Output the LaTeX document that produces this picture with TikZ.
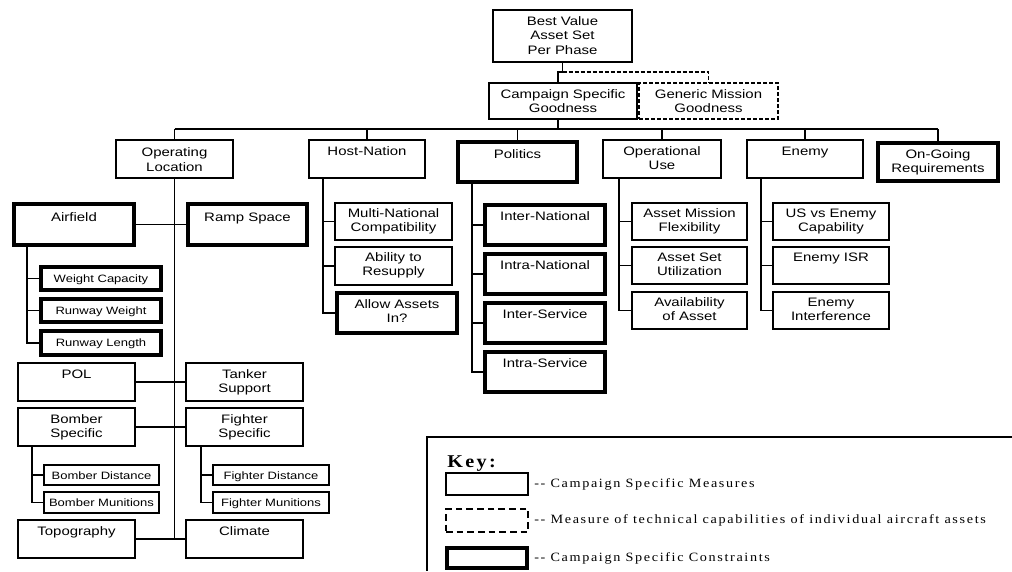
\documentclass[tikz,border=0pt]{standalone}
\usepackage{fontspec}
\newfontfamily\af[FakeStretch=1.22]{Liberation Sans}
\newfontfamily\kf[FakeStretch=1.12,LetterSpace=13]{Liberation Serif}
\newfontfamily\ttlf{Liberation Serif}
\newcommand\bxfont{\af\fontsize{9.2}{10.9}\selectfont}
\newcommand\smfont{\af\fontsize{8}{9.5}\selectfont}
\newcommand\keyfont{\kf\fontsize{9.5}{11}\selectfont}
\newcommand\keybfont{\kf\bfseries\fontsize{13.5}{15}\selectfont}
% name, x1, y1, x2, y2 (px), style, first-baseline offset, text
\newcommand\Bx[8]{%
  \node[#6, anchor=north west, inner sep=0pt, outer sep=0pt] (#1) at (#2,#3)
  {\parbox[c][\dimexpr 3pt*(#5-#3)/4\relax][t]{\dimexpr 3pt*(#4-#2)/4\relax}{\centering\rule{0pt}{#7}#8\par}};}
\tikzset{
  nb/.style={draw, line width=1.1pt, font=\bxfont},
  nbs/.style={draw, line width=1.1pt, font=\smfont},
  db/.style={draw, line width=1.1pt, dash pattern=on 3pt off 1.5pt, font=\bxfont},
  kdb/.style={draw, line width=1.1pt, dash pattern=on 5pt off 3pt},
  cb/.style={draw=gray!60, line width=0.5pt, double=black, double distance=2.3pt, font=\bxfont},
  cbs/.style={cb, font=\smfont},
  conn/.style={line width=1pt},
}
\begin{document}
\begin{tikzpicture}[x=0.75pt,y=-0.75pt]
\useasboundingbox (0,0) rectangle (1012,571);
% cut-off title
\begin{scope}
\clip (0,0) rectangle (1012,571);
\node[anchor=base west, inner sep=0pt, font=\ttlf\bfseries\fontsize{48}{50}\selectfont] (title) at (271,-15) {Campaign};
\end{scope}
% top
\Bx{bv}{493}{10}{632}{62}{nb}{11.25pt}{Best Value\\Asset Set\\Per Phase}
\Bx{csg}{489}{83}{637}{119}{nb}{11.25pt}{Campaign Specific\\Goodness}
\Bx{gmg}{639}{83}{778}{119}{db}{11.25pt}{Generic Mission\\Goodness}
% level 1
\Bx{ol}{116}{140}{233}{178}{nb}{12.4pt}{Operating\\Location}
\Bx{hn}{309}{140}{425}{178}{nb}{11.25pt}{Host-Nation}
\Bx{pol}{458}{142}{577}{182}{cb}{12pt}{Politics}
\Bx{ou}{603}{140}{721}{178}{nb}{11.25pt}{Operational\\Use}
\Bx{en}{747}{140}{863}{178}{nb}{11.25pt}{Enemy}
\Bx{og}{878}{143}{998}{181}{cb}{11.5pt}{On-Going\\Requirements}
% operating location
\Bx{af}{14}{204}{134}{245}{cb}{12.75pt}{Airfield}
\Bx{rs}{188}{204}{307}{245}{cb}{12.75pt}{Ramp Space}
\Bx{wc}{41}{267}{161}{290}{cbs}{11.25pt}{Weight Capacity}
\Bx{rw}{41}{299}{161}{322}{cbs}{11.25pt}{Runway Weight}
\Bx{rl}{41}{331}{161}{355}{cbs}{11.25pt}{Runway Length}
\Bx{pl}{18}{363}{135}{401}{nb}{11.25pt}{POL}
\Bx{ts}{186}{363}{303}{401}{nb}{11.25pt}{Tanker\\Support}
\Bx{bs}{18}{408}{135}{446}{nb}{11.25pt}{Bomber\\Specific}
\Bx{fs}{186}{408}{303}{446}{nb}{11.25pt}{Fighter\\Specific}
\Bx{bd}{44}{465}{159}{485}{nbs}{10.5pt}{Bomber Distance}
\Bx{bm}{44}{492}{159}{513}{nbs}{10.5pt}{Bomber Munitions}
\Bx{fd}{213}{465}{329}{485}{nbs}{10.5pt}{Fighter Distance}
\Bx{fm}{213}{492}{329}{513}{nbs}{10.5pt}{Fighter Munitions}
\Bx{tp}{18}{520}{135}{558}{nb}{11.25pt}{Topography}
\Bx{cl}{186}{520}{303}{558}{nb}{11.25pt}{Climate}
% host-nation
\Bx{mn}{335}{203}{452}{240}{nb}{10.5pt}{Multi-National\\Compatibility}
\Bx{ar}{335}{247}{452}{285}{nb}{10.5pt}{Ability to\\Resupply}
\Bx{aa}{337}{293}{457}{333}{cb}{11.25pt}{Allow Assets\\In?}
% politics
\Bx{inn}{485}{205}{605}{245}{cb}{11.6pt}{Inter-National}
\Bx{ina}{485}{254}{605}{294}{cb}{11.6pt}{Intra-National}
\Bx{isv}{485}{303}{605}{343}{cb}{11.6pt}{Inter-Service}
\Bx{isa}{485}{352}{605}{392}{cb}{11.6pt}{Intra-Service}
% operational use
\Bx{amf}{632}{203}{747}{240}{nb}{10.5pt}{Asset Mission\\Flexibility}
\Bx{asu}{632}{247}{747}{284}{nb}{10.5pt}{Asset Set\\Utilization}
\Bx{aoa}{632}{292}{747}{329}{nb}{10.5pt}{Availability\\of Asset}
% enemy
\Bx{uec}{773}{203}{889}{240}{nb}{10.5pt}{US vs Enemy\\Capability}
\Bx{eisr}{773}{247}{889}{284}{nb}{10.5pt}{Enemy ISR}
\Bx{ei}{773}{292}{889}{329}{nb}{10.5pt}{Enemy\\Interference}
% connectors top
\draw[conn] (bv.south) -- ++(0,10) coordinate (j) -| ([shift={(-5,0)}]csg.north);
\draw[conn, dash pattern=on 3pt off 1.5pt] (j) -| (gmg.north);
\draw[conn] ([shift={(-5,0)}]csg.south) -- ++(0,10) coordinate (bus);
\draw[conn] (ol.north |- bus) -- (og.north |- bus);
\foreach \n in {ol,hn,pol,ou,en,og} \draw[conn] (\n.north |- bus) -- (\n.north);
% operating location tree
\draw[conn] (ol.south) -- (ol.south |- cl.west);
\draw[conn] (af.east) -- (rs.west);
\draw[conn] (pl.east) -- (ts.west);
\draw[conn] (bs.east) -- (fs.west);
\draw[conn] (tp.east) -- (cl.west);
\foreach \n in {wc,rw,rl} \draw[conn] ([shift={(13,0)}]af.south west) |- (\n.west);
\foreach \n in {bd,bm} \draw[conn] ([shift={(14,0)}]bs.south west) |- (\n.west);
\foreach \n in {fd,fm} \draw[conn] ([shift={(15,0)}]fs.south west) |- (\n.west);
\foreach \n in {mn,ar,aa} \draw[conn] ([shift={(14,0)}]hn.south west) |- (\n.west);
\foreach \n in {inn,ina,isv,isa} \draw[conn] ([shift={(14,0)}]pol.south west) |- (\n.west);
\foreach \n in {amf,asu,aoa} \draw[conn] ([shift={(16,0)}]ou.south west) |- (\n.west);
\foreach \n in {uec,eisr,ei} \draw[conn] ([shift={(14,0)}]en.south west) |- (\n.west);
% key
\draw[line width=1.1pt] (1012,437) -- (427,437) -- (427,571);
\node[anchor=base west, inner sep=0pt, font=\keybfont] (keyt) at (447,467) {Key:};
\Bx{k1}{446}{473}{528}{495}{nb}{0pt}{}
\Bx{k2}{446}{509}{528}{532}{kdb}{0pt}{}
\Bx{k3}{447}{548}{527}{568}{cb}{0pt}{}
\node[anchor=west, inner sep=0pt, font=\keyfont] (kt1) at ([shift={(6,0)}]k1.east) {-{}- Campaign Specific Measures};
\node[anchor=west, inner sep=0pt, font=\keyfont] (kt2) at ([shift={(6,0)}]k2.east) {-{}- Measure of technical capabilities of individual aircraft assets};
\node[anchor=west, inner sep=0pt, font=\keyfont] (kt3) at ([shift={(7,0)}]k3.east) {-{}- Campaign Specific Constraints};
\end{tikzpicture}
\end{document}
